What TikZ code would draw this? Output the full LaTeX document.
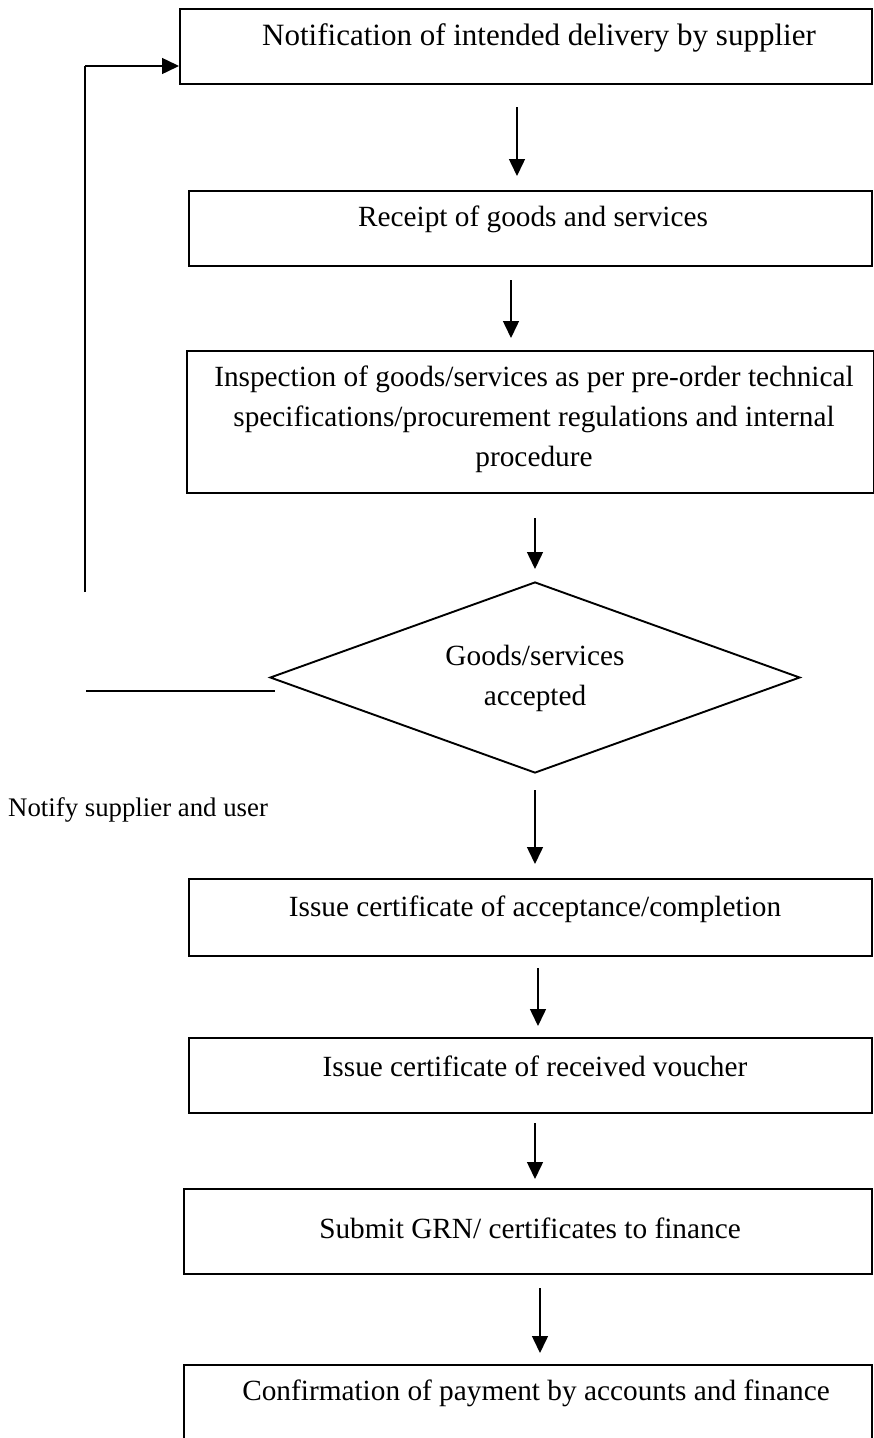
\documentclass[tikz,border=0pt]{standalone}
\usepackage{fontspec}
\setmainfont{Liberation Serif}
\usetikzlibrary{arrows.meta,shapes.geometric,calc}
\begin{document}
\begin{tikzpicture}[x=1pt,y=-1pt,
  box/.style={draw,line width=1.9pt,anchor=north west,inner sep=0pt},
  txt/.style={font=\fontsize{29.3}{40}\selectfont,align=center,inner sep=0pt},
  flow/.style={line width=1.5pt,-{Triangle[length=17pt,width=16pt]}},
  plain/.style={line width=1.7pt}]
\useasboundingbox (0,0) rectangle (873,1438);
% process boxes
\node[box,minimum width=692pt,minimum height=75pt] (b1) at (179,8) {};
\node[box,minimum width=683pt,minimum height=75pt] (b2) at (188,190) {};
\node[box,minimum width=687pt,minimum height=142pt] (b3) at (186,350) {};
\node[box,minimum width=683pt,minimum height=77pt] (b4) at (188,878) {};
\node[box,minimum width=683pt,minimum height=75pt] (b5) at (188,1037) {};
\node[box,minimum width=688pt,minimum height=85pt] (b6) at (183,1188) {};
\node[box,minimum width=688pt,minimum height=90pt] (b7) at (183,1364) {};
% decision
\node[draw,line width=1.9pt,diamond,minimum width=530pt,minimum height=191pt,inner sep=0pt] (d) at (535,677.5) {};
% labels
\node[txt,font=\fontsize{31}{40}\selectfont] (t1) at (539,38) {Notification of intended delivery by supplier};
\node[txt] (t2) at (533,219) {Receipt of goods and services};
\node[txt] (t3) at (534,419) {Inspection of goods/services as per pre-order technical\\specifications/procurement regulations and internal\\procedure};
\node[txt] (t4) at (535,909) {Issue certificate of acceptance/completion};
\node[txt] (t5) at (535,1066) {Issue certificate of received voucher};
\node[txt] (t6) at (530,1228) {Submit GRN/ certificates to finance};
\node[txt] (t7) at (536,1393) {Confirmation of payment by accounts and finance};
\node[txt] (td) at (535,678) {Goods/services\\accepted};
\node[txt,font=\fontsize{26.8}{30}\selectfont,anchor=west] (tn) at (8,810) {Notify supplier and user};
% arrow end points
\coordinate (a1s) at (517,107); \coordinate (a1e) at (517,176);
\coordinate (a2s) at (511,280); \coordinate (a2e) at (511,338);
\coordinate (a3s) at (535,518); \coordinate (a3e) at (535,569);
\coordinate (a4s) at (535,790); \coordinate (a4e) at (535,864);
\coordinate (a5s) at (538,968); \coordinate (a5e) at (538,1026);
\coordinate (a6s) at (535,1123); \coordinate (a6e) at (535,1179);
\coordinate (a7s) at (540,1288); \coordinate (a7e) at (540,1353);
\draw[flow] (a1s) -- (a1e);
\draw[flow] (a2s) -- (a2e);
\draw[flow] (a3s) -- (a3e);
\draw[flow] (a4s) -- (a4e);
\draw[flow] (a5s) -- (a5e);
\draw[flow] (a6s) -- (a6e);
\draw[flow] (a7s) -- (a7e);
% rejection loop back to the first step
\coordinate (r1) at (86,691); \coordinate (r2) at (275,691);
\draw[plain] (r1) -- (r2);
\coordinate (l1) at (85,592); \coordinate (l2) at (85,66);
\draw[plain] (l1) -- (l2);
\draw[flow] (l2) -- (b1.west |- l2);
\end{tikzpicture}
\end{document}
